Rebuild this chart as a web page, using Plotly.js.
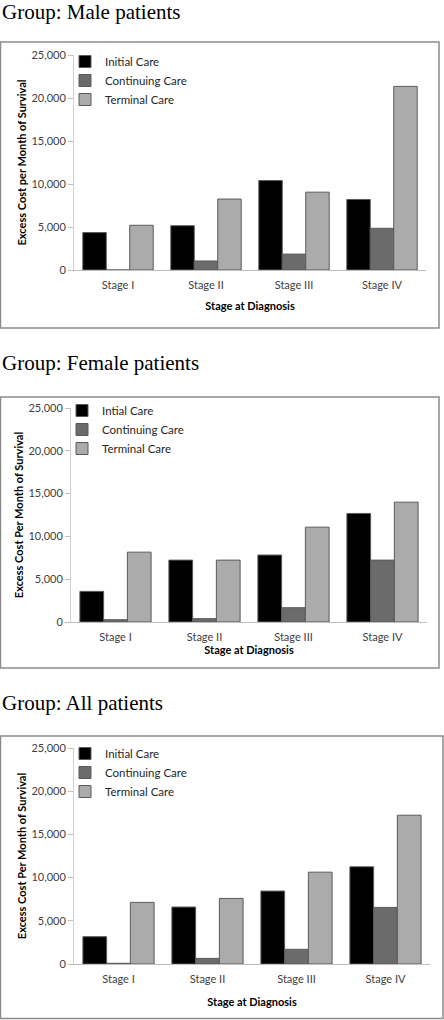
<!DOCTYPE html>
<html>
<head>
<meta charset="utf-8">
<script src="https://cdn.plot.ly/plotly-3.0.1.min.js"></script>
<style>html,body{margin:0;padding:0;background:#fff;}#chart{width:444px;height:1020px;}</style>
</head>
<body>
<div id="chart"></div>
<script>
// ---- data ----
const stages = ["Stage I", "Stage II", "Stage III", "Stage IV"];
const groupTitles = ["Group: Male patients", "Group: Female patients", "Group: All patients"];
const yTitles = ["Excess Cost per Month of Survival", "Excess Cost Per Month of Survival", "Excess Cost Per Month of Survival"];
const xTitle = "Stage at Diagnosis";
const legendNames = [
  ["Initial Care", "Continuing Care", "Terminal Care"],
  ["Intial Care", "Continuing Care", "Terminal Care"],
  ["Initial Care", "Continuing Care", "Terminal Care"]
];
const maleInitial = [4350, 5150, 10400, 8200];
const maleContinuing = [0, 1050, 1850, 4850];
const maleTerminal = [5200, 8250, 9050, 21350];
const femaleInitial = [3580, 7230, 7820, 12680];
const femaleContinuing = [270, 390, 1670, 7230];
const femaleTerminal = [8160, 7230, 11080, 14000];
const allInitial = [3160, 6590, 8440, 11250];
const allContinuing = [80, 650, 1700, 6550];
const allTerminal = [7130, 7590, 10630, 17220];

const seriesByPanel = [
  [maleInitial, maleContinuing, maleTerminal],
  [femaleInitial, femaleContinuing, femaleTerminal],
  [allInitial, allContinuing, allTerminal]
];
const colors = ["#000000", "#6b6b6b", "#ababab"];

// ---- layout geometry (pixels) ----
const W = 444, H = 1020;
const fx = p => p / W;
const fy = p => 1 - p / H;
const panels = [
  {xd: [74, 426], yd: [55, 270], frame: [0.5, 42, 439, 328], title: 12, leg: [65, 47], xstand: 12},
  {xd: [71, 427], yd: [408, 622], frame: [0.5, 397, 439, 668], title: 363, leg: [62, 396], xstand: 2},
  {xd: [74, 430], yd: [748, 964], frame: [0.5, 736, 443, 1018.5], title: 703, leg: [65, 739], xstand: 14}
];

const tickFont = {family: "Lato, 'Open Sans', sans-serif", size: 11, color: "#404040"};
const titleFont = {family: "Lato, 'Open Sans', sans-serif", size: 11, color: "#000000", weight: "bold"};

const traces = [];
const layout = {
  width: W, height: H,
  margin: {l: 0, r: 0, t: 0, b: 0},
  paper_bgcolor: "#ffffff", plot_bgcolor: "#ffffff",
  barmode: "group", bargap: 0.2, bargroupgap: 0,
  showlegend: true,
  shapes: [], annotations: []
};

panels.forEach((p, i) => {
  const n = i === 0 ? "" : String(i + 1);
  const xa = "x" + n, ya = "y" + n;
  const legKey = "legend" + n;
  seriesByPanel[i].forEach((vals, k) => {
    traces.push({
      type: "bar", x: stages, y: vals, name: legendNames[i][k],
      xaxis: xa, yaxis: ya, legend: legKey,
      marker: {color: colors[k], line: {color: "#5a5a5a", width: 1}},
      hoverinfo: "x+y+name"
    });
  });
  layout["xaxis" + n] = {
    domain: [fx(p.xd[0]), fx(p.xd[1])], anchor: ya,
    showgrid: false, zeroline: false, showline: true, linecolor: "#bfbfbf", linewidth: 1,
    ticks: "", tickfont: tickFont, ticklabelstandoff: 5,
    title: {text: xTitle, font: titleFont, standoff: p.xstand}
  };
  layout["yaxis" + n] = {
    domain: [fy(p.yd[1]), fy(p.yd[0])], anchor: xa,
    range: [0, 25000], dtick: 5000, tickformat: ",",
    showgrid: false, zeroline: false, showline: true, linecolor: "#d0d0d0", linewidth: 1,
    ticks: "outside", ticklen: 5, tickcolor: "#bfbfbf", tickfont: tickFont,
    title: {text: yTitles[i], font: titleFont, standoff: 2}
  };
  layout[legKey] = {
    x: fx(p.leg[0]), y: fy(p.leg[1]), xanchor: "left", yanchor: "top",
    bgcolor: "rgba(0,0,0,0)", font: {family: "Lato, 'Open Sans', sans-serif", size: 11.5, color: "#262626"},
    tracegroupgap: 0, itemwidth: 30
  };
  const f = p.frame;
  layout.shapes.push({
    type: "rect", xref: "paper", yref: "paper",
    x0: fx(f[0]), x1: fx(f[2]), y0: fy(f[3]), y1: fy(f[1]),
    line: {color: "#8c8c8c", width: 1.5}, fillcolor: "rgba(0,0,0,0)", layer: "below"
  });
  layout.annotations.push({
    text: groupTitles[i], xref: "paper", yref: "paper",
    x: 0, y: fy(p.title), xanchor: "left", yanchor: "middle", showarrow: false,
    font: {family: "'Liberation Serif', 'Times New Roman', serif", size: 21, color: "#000000"}
  });
});

Plotly.newPlot("chart", traces, layout, {displayModeBar: false, staticPlot: true});
</script>
</body>
</html>
